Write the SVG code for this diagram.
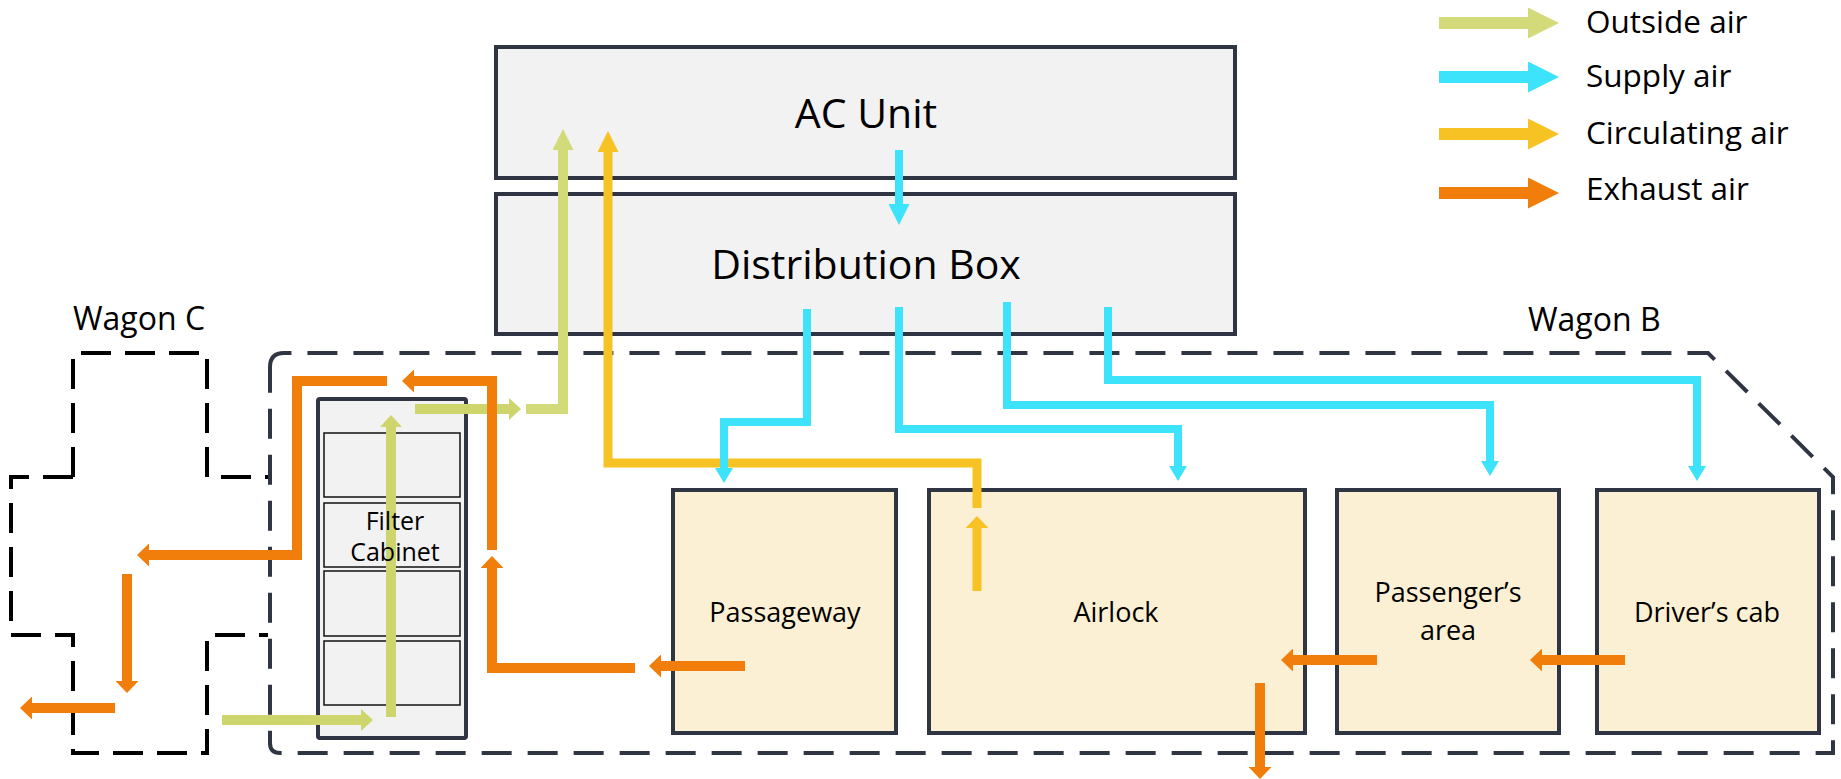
<svg xmlns="http://www.w3.org/2000/svg" width="1841" height="779" viewBox="0 0 1841 779">
<style>
text{font-family:"Open Sans","Liberation Sans",sans-serif;fill:#000}
.box{fill:#f2f2f2;stroke:#2f3542;stroke-width:4}
.room{fill:#fcf0d4;stroke:#2f3542;stroke-width:4}
.cell{fill:#f2f2f2;stroke:#111;stroke-width:1.5}
.wb{fill:none;stroke:#2f3542;stroke-width:4;stroke-dasharray:30 16}
.wc{fill:none;stroke:#000;stroke-width:4;stroke-dasharray:30 14}
.g{fill:none;stroke:#cdd56c;stroke-width:10}
.b{fill:none;stroke:#3de2fb;stroke-width:8}
.y{fill:none;stroke:#f7c223;stroke-width:9}
.o{fill:none;stroke:#f17d0a;stroke-width:10}
.lg{stroke-width:12}
.big{font-size:41px}
.lbl{font-size:27px}
.fc{font-size:25px}
.wag{font-size:32px}
.leg{font-size:31.5px}
</style>
<defs>
<marker id="gs" markerUnits="userSpaceOnUse" viewBox="0 0 12 22" markerWidth="12" markerHeight="22" refX="0" refY="11" orient="auto"><path d="M0,0 L12,11 L0,22 Z" fill="#cdd56c"/></marker>
<marker id="gl" markerUnits="userSpaceOnUse" viewBox="0 0 21 21" markerWidth="21" markerHeight="21" refX="0" refY="10.5" orient="auto"><path d="M0,0 L21,10.5 L0,21 Z" fill="#d3da7a"/></marker>
<marker id="gL" markerUnits="userSpaceOnUse" viewBox="0 0 31 31" markerWidth="31" markerHeight="31" refX="0" refY="15.5" orient="auto"><path d="M0,0 L31,15.5 L0,31 Z" fill="#d3da7a"/></marker>
<marker id="bs" markerUnits="userSpaceOnUse" viewBox="0 0 15 18" markerWidth="15" markerHeight="18" refX="0" refY="9" orient="auto"><path d="M0,0 L15,9 L0,18 Z" fill="#3de2fb"/></marker>
<marker id="bl" markerUnits="userSpaceOnUse" viewBox="0 0 21 21" markerWidth="21" markerHeight="21" refX="0" refY="10.5" orient="auto"><path d="M0,0 L21,10.5 L0,21 Z" fill="#3de2fb"/></marker>
<marker id="bL" markerUnits="userSpaceOnUse" viewBox="0 0 31 31" markerWidth="31" markerHeight="31" refX="0" refY="15.5" orient="auto"><path d="M0,0 L31,15.5 L0,31 Z" fill="#3de2fb"/></marker>
<marker id="ys" markerUnits="userSpaceOnUse" viewBox="0 0 12 23" markerWidth="12" markerHeight="23" refX="0" refY="11.5" orient="auto"><path d="M0,0 L12,11.5 L0,23 Z" fill="#f7c223"/></marker>
<marker id="yl" markerUnits="userSpaceOnUse" viewBox="0 0 21 21" markerWidth="21" markerHeight="21" refX="0" refY="10.5" orient="auto"><path d="M0,0 L21,10.5 L0,21 Z" fill="#f7c223"/></marker>
<marker id="yL" markerUnits="userSpaceOnUse" viewBox="0 0 31 31" markerWidth="31" markerHeight="31" refX="0" refY="15.5" orient="auto"><path d="M0,0 L31,15.5 L0,31 Z" fill="#f7c223"/></marker>
<marker id="os" markerUnits="userSpaceOnUse" viewBox="0 0 12 23" markerWidth="12" markerHeight="23" refX="0" refY="11.5" orient="auto"><path d="M0,0 L12,11.5 L0,23 Z" fill="#f17d0a"/></marker>
<marker id="oL" markerUnits="userSpaceOnUse" viewBox="0 0 31 31" markerWidth="31" markerHeight="31" refX="0" refY="15.5" orient="auto"><path d="M0,0 L31,15.5 L0,31 Z" fill="#f17d0a"/></marker>
</defs>

<g id="wagon-c">
<path class="wc" d="M73,477 V353 H207 V477 H268 M73,477 H11 V635 H73 V753 H207 V635 H268"/>
<text class="wag" x="73" y="330">Wagon C</text>
</g>

<g id="wagon-b">
<path class="wb" d="M270,367 Q270,353 284,353 H1708 L1833,477 V753 H280 Q270,753 270,743 Z"/>
<text class="wag" x="1528" y="331">Wagon B</text>
</g>

<g id="ac-unit">
<rect class="box" x="496" y="47" width="739" height="131"/>
<text class="big" x="866" y="128" text-anchor="middle">AC Unit</text>
</g>

<g id="distribution-box">
<rect class="box" x="496" y="194" width="739" height="140"/>
<text class="big" x="866" y="279" text-anchor="middle">Distribution Box</text>
</g>

<g id="filter-cabinet">
<rect class="box" x="318" y="399" width="148" height="339" rx="2"/>
<rect class="cell" x="324" y="433" width="136" height="64"/>
<rect class="cell" x="324" y="503" width="136" height="64"/>
<rect class="cell" x="324" y="571" width="136" height="65"/>
<rect class="cell" x="324" y="641" width="136" height="64"/>
</g>

<g id="passageway">
<rect class="room" x="673" y="490" width="223" height="243"/>
<text class="lbl" x="785" y="622" text-anchor="middle">Passageway</text>
</g>

<g id="airlock">
<rect class="room" x="929" y="490" width="376" height="243"/>
<text class="lbl" x="1116" y="622" text-anchor="middle">Airlock</text>
</g>

<g id="passengers-area">
<rect class="room" x="1337" y="490" width="222" height="243"/>
<text class="lbl" x="1448" y="602" text-anchor="middle">Passenger’s</text>
<text class="lbl" x="1448" y="640" text-anchor="middle">area</text>
</g>

<g id="drivers-cab">
<rect class="room" x="1597" y="490" width="222" height="243"/>
<text class="lbl" x="1707" y="622" text-anchor="middle">Driver’s cab</text>
</g>

<g id="connectors">
<path class="g" d="M222,720 H361" marker-end="url(#gs)"/>
<path class="g" d="M391,717 V427" marker-end="url(#gs)"/>
<path class="g" d="M415,409 H509" marker-end="url(#gs)"/>
<path class="g" d="M526,409 H563 V150" marker-end="url(#gl)" style="stroke:#d3da7a"/>

<path class="y" d="M977,508 V463 H608 V152" marker-end="url(#yl)"/>
<path class="y" d="M977,591 V528" marker-end="url(#ys)"/>

<path class="b" d="M899,150 V204" marker-end="url(#bl)"/>
<path class="b" d="M807,309 V422 H724 V468" marker-end="url(#bs)"/>
<path class="b" d="M899,307 V429 H1178 V466" marker-end="url(#bs)"/>
<path class="b" d="M1007,302 V405 H1490 V461" marker-end="url(#bs)"/>
<path class="b" d="M1108,307 V380 H1697 V466" marker-end="url(#bs)"/>

<path class="o" d="M387,381 H297 V555 H149" marker-end="url(#os)"/>
<path class="o" d="M492,550 V381 H414" marker-end="url(#os)"/>
<path class="o" d="M635,668 H492 V568" marker-end="url(#os)"/>
<path class="o" d="M127,574 V681" marker-end="url(#os)"/>
<path class="o" d="M115,708 H32" marker-end="url(#os)"/>
<path class="o" d="M745,666 H661" marker-end="url(#os)"/>
<path class="o" d="M1377,660 H1293" marker-end="url(#os)"/>
<path class="o" d="M1625,660 H1542" marker-end="url(#os)"/>
<path class="o" d="M1260,683 V767" marker-end="url(#os)"/>
</g>

<g id="filter-cabinet-label">
<text class="fc" x="395" y="530" text-anchor="middle">Filter</text>
<text class="fc" x="395" y="561" text-anchor="middle">Cabinet</text>
</g>

<g id="legend">
<path class="g lg" d="M1439,23 H1528" marker-end="url(#gL)" style="stroke:#d3da7a"/>
<path class="b lg" d="M1439,77 H1528" marker-end="url(#bL)"/>
<path class="y lg" d="M1439,134 H1528" marker-end="url(#yL)"/>
<path class="o lg" d="M1439,193 H1528" marker-end="url(#oL)"/>
<text class="leg" x="1586" y="33">Outside air</text>
<text class="leg" x="1586" y="87">Supply air</text>
<text class="leg" x="1586" y="144">Circulating air</text>
<text class="leg" x="1586" y="200">Exhaust air</text>
</g>
</svg>
